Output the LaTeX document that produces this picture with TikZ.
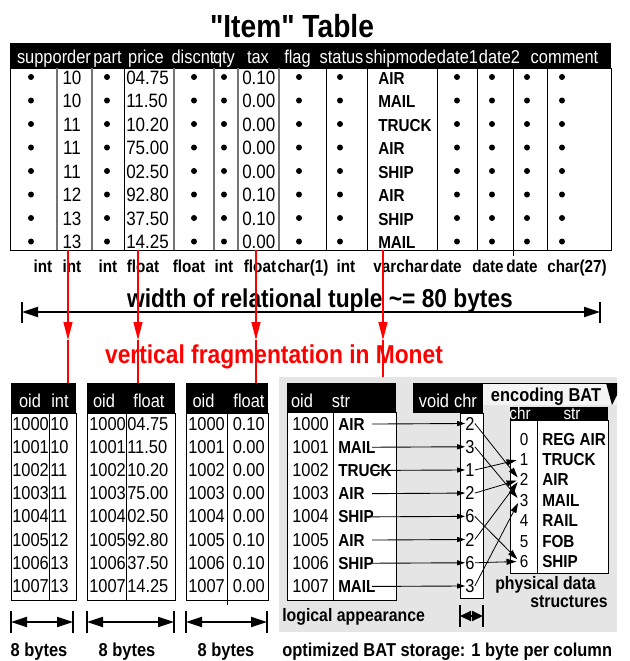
\documentclass[tikz,border=0pt]{standalone}
\usepackage{fontspec}
\setmainfont[FakeStretch=0.88]{Liberation Sans}
\newfontfamily\quotefont[FakeStretch=0.88]{Liberation Sans}
\usetikzlibrary{arrows.meta}

\newlength{\du}
\setlength{\du}{0.75pt}

\definecolor{storegray}{rgb}{0.898,0.898,0.898}
\definecolor{tabgray}{rgb}{0.955,0.955,0.955}

\tikzset{
  ttl/.style={inner sep=0pt, anchor=base, font=\quotefont\bfseries\fontsize{24}{28}\selectfont},
  big/.style={inner sep=0pt, anchor=base, font=\bfseries\fontsize{19.4}{23}\selectfont},
  hd/.style={inner sep=0pt, anchor=base, text=white, font=\fontsize{14}{17}\selectfont},
  val/.style={inner sep=0pt, anchor=base, font=\fontsize{14.5}{17}\selectfont},
  bval/.style={inner sep=0pt, anchor=base west, font=\bfseries\fontsize{13}{15}\selectfont},
  typ/.style={inner sep=0pt, anchor=base, font=\bfseries\fontsize{13}{15}\selectfont},
  bhd/.style={inner sep=0pt, anchor=base, text=white, font=\fontsize{14}{17}\selectfont},
  bv/.style={inner sep=0pt, anchor=base west, font=\fontsize{14}{17}\selectfont},
  lbl/.style={inner sep=0pt, anchor=base, font=\bfseries\fontsize{14}{17}\selectfont},
  sml/.style={inner sep=0pt, anchor=base, font=\bfseries\fontsize{13.5}{16}\selectfont},
  ehd/.style={inner sep=0pt, anchor=base, text=white, font=\fontsize{13}{15}\selectfont},
  ev/.style={inner sep=0pt, anchor=base, font=\fontsize{13}{15}\selectfont},
  tbl/.style={line width=1\du},
  tblg/.style={line width=1.4\du, draw=black!55},
  frag/.style={red, line width=1.3\du},
  fragtip/.style={frag, -{Triangle[length=13.5pt,width=6.75pt]}},
  span/.style={line width=1.8\du, {Triangle[length=12pt,width=7.5pt]}-{Triangle[length=12pt,width=7.5pt]}},
  bar/.style={line width=1.8\du},
  ptr/.style={line width=0.9\du, -{Triangle[length=6pt,width=3.75pt]}},
  enc/.style={line width=0.8\du, -{Triangle[length=7.5pt,width=4.5pt]}, shorten >=3\du},
}

\begin{document}
\begin{tikzpicture}
\pgftransformyscale{-1.000000}
\useasboundingbox (0\du,0\du) rectangle (630\du,661\du);

\node[ttl] (title) at (292\du,37\du) {"Item" Table};

% relational table
\fill[black] (10\du,43\du) rectangle (611\du,68\du);
\draw[tbl] (10\du,68\du) rectangle (611\du,250\du);
\draw[tblg] (57\du,68\du)--(57\du,250\du);
\draw[tblg] (92\du,68\du)--(92\du,250\du);
\draw[tbl] (124\du,68\du)--(124\du,250\du);
\draw[tblg] (174\du,68\du)--(174\du,250\du);
\draw[tblg] (214\du,68\du)--(214\du,250\du);
\draw[tblg] (238\du,68\du)--(238\du,250\du);
\draw[tblg] (279\du,68\du)--(279\du,250\du);
\draw[tbl] (326\du,68\du)--(326\du,250\du);
\draw[tbl] (367\du,68\du)--(367\du,250\du);
\draw[tbl] (437\du,68\du)--(437\du,250\du);
\draw[tbl] (477\du,68\du)--(477\du,250\du);
\draw[tbl] (513\du,68\du)--(513\du,256\du);
\draw[tbl] (547\du,68\du)--(547\du,250\du);

\node[hd] (hsupp) at (54\du,63\du) {supporder};
\node[hd] (hpart) at (107.5\du,63\du) {part};
\node[hd] (hprice) at (146\du,63\du) {price};
\node[hd] (hdisc) at (193\du,63\du) {discnt};
\node[hd] (hqty) at (224\du,63\du) {qty};
\node[hd] (htax) at (258\du,63\du) {tax};
\node[hd] (hflag) at (297.5\du,63\du) {flag};
\node[hd] (hstat) at (341.5\du,63\du) {status};
\node[hd] (hship) at (401\du,63\du) {shipmode};
\node[hd] (hdate1) at (457.5\du,63\du) {date1};
\node[hd] (hdate2) at (499.5\du,63\du) {date2};
\node[hd] (hcomm) at (564.5\du,63\du) {comment};

\foreach \x in {31,107,194,224,299,340,457,492,527,562}
  \foreach \y in {77,100.5,124,147.5,171,194.5,218,241.5}
    \fill (\x\du,\y\du) circle (3\du);

\node[val] (o1) at (72\du,84\du) {10};
\node[val,anchor=base west] (p1) at (126\du,84\du) {04.75};
\node[val,anchor=base west] (t1) at (242\du,84\du) {0.10};
\node[bval] (m1) at (378\du,84\du) {AIR};
\node[val] (o2) at (72\du,107.5\du) {10};
\node[val,anchor=base west] (p2) at (126\du,107.5\du) {11.50};
\node[val,anchor=base west] (t2) at (242\du,107.5\du) {0.00};
\node[bval] (m2) at (378\du,107.5\du) {MAIL};
\node[val] (o3) at (72\du,131\du) {11};
\node[val,anchor=base west] (p3) at (126\du,131\du) {10.20};
\node[val,anchor=base west] (t3) at (242\du,131\du) {0.00};
\node[bval] (m3) at (378\du,131\du) {TRUCK};
\node[val] (o4) at (72\du,154.5\du) {11};
\node[val,anchor=base west] (p4) at (126\du,154.5\du) {75.00};
\node[val,anchor=base west] (t4) at (242\du,154.5\du) {0.00};
\node[bval] (m4) at (378\du,154.5\du) {AIR};
\node[val] (o5) at (72\du,178\du) {11};
\node[val,anchor=base west] (p5) at (126\du,178\du) {02.50};
\node[val,anchor=base west] (t5) at (242\du,178\du) {0.00};
\node[bval] (m5) at (378\du,178\du) {SHIP};
\node[val] (o6) at (72\du,201.5\du) {12};
\node[val,anchor=base west] (p6) at (126\du,201.5\du) {92.80};
\node[val,anchor=base west] (t6) at (242\du,201.5\du) {0.10};
\node[bval] (m6) at (378\du,201.5\du) {AIR};
\node[val] (o7) at (72\du,225\du) {13};
\node[val,anchor=base west] (p7) at (126\du,225\du) {37.50};
\node[val,anchor=base west] (t7) at (242\du,225\du) {0.10};
\node[bval] (m7) at (378\du,225\du) {SHIP};
\node[val] (o8) at (72\du,248.5\du) {13};
\node[val,anchor=base west] (p8) at (126\du,248.5\du) {14.25};
\node[val,anchor=base west] (t8) at (242\du,248.5\du) {0.00};
\node[bval] (m8) at (378\du,248.5\du) {MAIL};

% column types
\node[typ] (ty1) at (43\du,272\du) {int};
\node[typ] (ty2) at (72\du,272\du) {int};
\node[typ] (ty3) at (108\du,272\du) {int};
\node[typ] (ty4) at (143\du,272\du) {float};
\node[typ] (ty5) at (189\du,272\du) {float};
\node[typ] (ty6) at (224\du,272\du) {int};
\node[typ] (ty7) at (260\du,272\du) {float};
\node[typ] (ty8) at (303\du,272\du) {char(1)};
\node[typ] (ty9) at (346\du,272\du) {int};
\node[typ] (ty10) at (401\du,272\du) {varchar};
\node[typ] (ty11) at (446\du,272\du) {date};
\node[typ] (ty12) at (488\du,272\du) {date};
\node[typ] (ty13) at (522\du,272\du) {date};
\node[typ] (ty14) at (577\du,272\du) {char(27)};

% tuple width
\node[big] (wtxt) at (320\du,307\du) {width of relational tuple \textasciitilde= 80 bytes};
\coordinate (wl) at (22\du,312\du);
\coordinate (wr) at (600\du,312\du);
\draw[span] (wl) -- (wr);
\draw[bar] (22\du,302\du) -- (22\du,323\du);
\draw[bar] (600\du,302\du) -- (600\du,323\du);

% fragmentation
\node[big,text=red] (frtxt) at (274\du,363\du) {vertical fragmentation in Monet};
\coordinate (r1a) at (68\du,250\du);
\coordinate (r1b) at (68\du,340\du);
\coordinate (r1c) at (68\du,383\du);
\coordinate (r2a) at (138\du,250\du);
\coordinate (r2b) at (138\du,340\du);
\coordinate (r2c) at (138\du,383\du);
\coordinate (r3a) at (256\du,250\du);
\coordinate (r3b) at (256\du,340\du);
\coordinate (r3c) at (256\du,383\du);
\coordinate (r4a) at (383\du,250\du);
\coordinate (r4b) at (383\du,340\du);
\coordinate (r4c) at (383\du,383\du);
\draw[fragtip] (r1a) -- (r1b);
\draw[frag] (r1b) -- (r1c);
\draw[fragtip] (r2a) -- (r2b);
\draw[frag] (r2b) -- (r2c);
\draw[fragtip] (r3a) -- (r3b);
\draw[frag] (r3b) -- (r3c);
\draw[fragtip] (r4a) -- (r4b);
\draw[frag] (r4b) -- (r4c);

% BAT oid/int
\fill[black] (11\du,383\du) rectangle (76\du,413\du);
\draw[tbl] (11\du,413\du) rectangle (76\du,600\du);
\draw[tbl] (49\du,413\du) -- (49\du,600\du);
\node[bhd] (a0) at (30\du,407\du) {oid};
\node[bhd] (a1) at (60\du,407\du) {int};
\node[bv] (ao1) at (12\du,430\du) {1000};
\node[bv] (ao2) at (12\du,453.2\du) {1001};
\node[bv] (ao3) at (12\du,476.4\du) {1002};
\node[bv] (ao4) at (12\du,499.6\du) {1003};
\node[bv] (ao5) at (12\du,522.8\du) {1004};
\node[bv] (ao6) at (12\du,546\du) {1005};
\node[bv] (ao7) at (12\du,569.2\du) {1006};
\node[bv] (ao8) at (12\du,592.4\du) {1007};
\node[bv] (av1) at (50\du,430\du) {10};
\node[bv] (av2) at (50\du,453.2\du) {10};
\node[bv] (av3) at (50\du,476.4\du) {11};
\node[bv] (av4) at (50\du,499.6\du) {11};
\node[bv] (av5) at (50\du,522.8\du) {11};
\node[bv] (av6) at (50\du,546\du) {12};
\node[bv] (av7) at (50\du,569.2\du) {13};
\node[bv] (av8) at (50\du,592.4\du) {13};

% BAT oid/float (price)
\fill[black] (87\du,383\du) rectangle (175\du,413\du);
\draw[tbl] (87\du,413\du) rectangle (175\du,600\du);
\draw[tbl] (126\du,413\du) -- (126\du,600\du);
\node[bhd] (b0) at (104\du,407\du) {oid};
\node[bhd] (b1) at (149\du,407\du) {float};
\node[bv] (bo1) at (89\du,430\du) {1000};
\node[bv] (bo2) at (89\du,453.2\du) {1001};
\node[bv] (bo3) at (89\du,476.4\du) {1002};
\node[bv] (bo4) at (89\du,499.6\du) {1003};
\node[bv] (bo5) at (89\du,522.8\du) {1004};
\node[bv] (bo6) at (89\du,546\du) {1005};
\node[bv] (bo7) at (89\du,569.2\du) {1006};
\node[bv] (bo8) at (89\du,592.4\du) {1007};
\node[bv] (bv1) at (127\du,430\du) {04.75};
\node[bv] (bv2) at (127\du,453.2\du) {11.50};
\node[bv] (bv3) at (127\du,476.4\du) {10.20};
\node[bv] (bv4) at (127\du,499.6\du) {75.00};
\node[bv] (bv5) at (127\du,522.8\du) {02.50};
\node[bv] (bv6) at (127\du,546\du) {92.80};
\node[bv] (bv7) at (127\du,569.2\du) {37.50};
\node[bv] (bv8) at (127\du,592.4\du) {14.25};

% BAT oid/float (tax)
\fill[black] (186\du,383\du) rectangle (268\du,413\du);
\draw[tbl] (186\du,413\du) rectangle (268\du,600\du);
\draw[tbl] (227\du,413\du) -- (227\du,605\du);
\node[bhd] (c0) at (203.5\du,407\du) {oid};
\node[bhd] (cf) at (249\du,407\du) {float};
\node[bv] (co1) at (188\du,430\du) {1000};
\node[bv] (co2) at (188\du,453.2\du) {1001};
\node[bv] (co3) at (188\du,476.4\du) {1002};
\node[bv] (co4) at (188\du,499.6\du) {1003};
\node[bv] (co5) at (188\du,522.8\du) {1004};
\node[bv] (co6) at (188\du,546\du) {1005};
\node[bv] (co7) at (188\du,569.2\du) {1006};
\node[bv] (co8) at (188\du,592.4\du) {1007};
\node[bv,anchor=base east] (cv1) at (265\du,430\du) {0.10};
\node[bv,anchor=base east] (cv2) at (265\du,453.2\du) {0.00};
\node[bv,anchor=base east] (cv3) at (265\du,476.4\du) {0.00};
\node[bv,anchor=base east] (cv4) at (265\du,499.6\du) {0.00};
\node[bv,anchor=base east] (cv5) at (265\du,522.8\du) {0.00};
\node[bv,anchor=base east] (cv6) at (265\du,546\du) {0.10};
\node[bv,anchor=base east] (cv7) at (265\du,569.2\du) {0.10};
\node[bv,anchor=base east] (cv8) at (265\du,592.4\du) {0.00};

% byte widths
\coordinate (w1l) at (11\du,622\du);
\coordinate (w1r) at (73\du,622\du);
\coordinate (w2l) at (87\du,622\du);
\coordinate (w2r) at (174\du,622\du);
\coordinate (w3l) at (186\du,622\du);
\coordinate (w3r) at (267\du,622\du);
\draw[span] (w1l) -- (w1r);
\draw[span] (w2l) -- (w2r);
\draw[span] (w3l) -- (w3r);
\draw[bar] (11\du,611\du) -- (11\du,633\du);
\draw[bar] (73\du,611\du) -- (73\du,633\du);
\draw[bar] (87\du,611\du) -- (87\du,633\du);
\draw[bar] (174\du,611\du) -- (174\du,633\du);
\draw[bar] (186\du,611\du) -- (186\du,633\du);
\draw[bar] (267\du,611\du) -- (267\du,633\du);
\node[lbl] (by1) at (39\du,656\du) {8 bytes};
\node[lbl] (by2) at (127\du,656\du) {8 bytes};
\node[lbl] (by3) at (226\du,656\du) {8 bytes};

% optimized storage
\fill[storegray] (279\du,377\du) rectangle (617\du,632\du);

\fill[black] (287\du,383\du) rectangle (396\du,412\du);
\fill[white] (287\du,412\du) rectangle (396\du,600\du);
\draw[tbl] (287\du,412\du) rectangle (396\du,600\du);
\draw[tbl] (333\du,412\du) -- (333\du,600\du);
\node[bhd] (d0) at (302\du,407\du) {oid};
\node[bhd] (d1) at (341\du,407\du) {str};
\node[bv] (do1) at (292\du,430\du) {1000};
\node[bv] (do2) at (292\du,453.2\du) {1001};
\node[bv] (do3) at (292\du,476.4\du) {1002};
\node[bv] (do4) at (292\du,499.6\du) {1003};
\node[bv] (do5) at (292\du,522.8\du) {1004};
\node[bv] (do6) at (292\du,546\du) {1005};
\node[bv] (do7) at (292\du,569.2\du) {1006};
\node[bv] (do8) at (292\du,592.4\du) {1007};
\node[bval] (s1) at (338\du,430\du) {AIR};
\node[bval] (s2) at (338\du,453.2\du) {MAIL};
\node[bval] (s3) at (338\du,476.4\du) {TRUCK};
\node[bval] (s4) at (338\du,499.6\du) {AIR};
\node[bval] (s5) at (338\du,522.8\du) {SHIP};
\node[bval] (s6) at (338\du,546\du) {AIR};
\node[bval] (s7) at (338\du,569.2\du) {SHIP};
\node[bval] (s8) at (338\du,592.4\du) {MAIL};

% void/chr column
\fill[black] (413\du,383\du) rectangle (483\du,413\du);
\fill[white] (460\du,413\du) rectangle (483\du,598\du);
\draw[tbl] (460\du,413\du) rectangle (483\du,598\du);
\node[bhd] (vvoid) at (434\du,407\du) {void};
\node[bhd] (vchr) at (465.5\du,407\du) {chr};
\node[bv,anchor=base] (k1) at (470\du,430\du) {2};
\node[bv,anchor=base] (k2) at (470\du,453.2\du) {3};
\node[bv,anchor=base] (k3) at (470\du,476.4\du) {1};
\node[bv,anchor=base] (k4) at (470\du,499.6\du) {2};
\node[bv,anchor=base] (k5) at (470\du,522.8\du) {6};
\node[bv,anchor=base] (k6) at (470\du,546\du) {2};
\node[bv,anchor=base] (k7) at (470\du,569.2\du) {6};
\node[bv,anchor=base] (k8) at (470\du,592.4\du) {3};

\draw[ptr] ([xshift=34\du]s1.west) -- (k1.west);
\draw[ptr] ([xshift=34\du]s2.west) -- (k2.west);
\draw[ptr] ([xshift=34\du]s3.west) -- (k3.west);
\draw[ptr] ([xshift=34\du]s4.west) -- (k4.west);
\draw[ptr] ([xshift=34\du]s5.west) -- (k5.west);
\draw[ptr] ([xshift=34\du]s6.west) -- (k6.west);
\draw[ptr] ([xshift=34\du]s7.west) -- (k7.west);
\draw[ptr] ([xshift=34\du]s8.west) -- (k8.west);

\coordinate (kw) at (471.5\du,616\du);
\coordinate (kwl) at (460\du,616\du);
\coordinate (kwr) at (483\du,616\du);
\draw[line width=1.8\du, -{Triangle[length=8.25pt,width=7.5pt]}] (kw) -- (kwl);
\draw[line width=1.8\du, -{Triangle[length=8.25pt,width=7.5pt]}] (kw) -- (kwr);
\draw[bar] (460\du,605\du) -- (460\du,627\du);
\draw[bar] (483\du,605\du) -- (483\du,627\du);

% encoding BAT
\fill[tabgray] (483\du,383\du) rectangle (617\du,405\du);
\draw[tbl] (483\du,383\du) -- (617\du,383\du);
\fill[black] (606\du,383\du) -- (617\du,383\du) -- (617\du,395\du) -- (612\du,405\du) -- cycle;
\node[lbl] (encl) at (546\du,401\du) {encoding BAT};
\fill[black] (510\du,407\du) rectangle (608\du,420\du);
\fill[white] (510\du,420\du) rectangle (608\du,573\du);
\draw[tbl] (510\du,420\du) rectangle (608\du,573\du);
\draw[tbl] (537\du,420\du) -- (537\du,573\du);
\node[ehd] (ec) at (520\du,419\du) {chr};
\node[ehd] (es) at (572\du,419\du) {str};
\node[ev] (e0) at (524\du,445\du) {0};
\node[ev] (e1) at (524\du,465.4\du) {1};
\node[ev] (e2) at (524\du,485.8\du) {2};
\node[ev] (e3) at (524\du,506.2\du) {3};
\node[ev] (e4) at (524\du,526.6\du) {4};
\node[ev] (e5) at (524\du,547\du) {5};
\node[ev] (e6) at (524\du,567.4\du) {6};
\node[bval] (n0) at (542\du,445\du) {REG AIR};
\node[bval] (n1) at (542\du,465.4\du) {TRUCK};
\node[bval] (n2) at (542\du,485.8\du) {AIR};
\node[bval] (n3) at (542\du,506.2\du) {MAIL};
\node[bval] (n4) at (542\du,526.6\du) {RAIL};
\node[bval] (n5) at (542\du,547\du) {FOB};
\node[bval] (n6) at (542\du,567.4\du) {SHIP};

\draw[enc] (k1.east) -- (e2.west);
\draw[enc] (k2.east) -- (e3.west);
\draw[enc] (k3.east) -- (e1.west);
\draw[enc] (k4.east) -- (e2.west);
\draw[enc] (k5.east) -- (e6.west);
\draw[enc] (k6.east) -- (e2.west);
\draw[enc] (k7.east) -- (e6.west);
\draw[enc] (k8.east) -- (e3.west);

\node[sml,anchor=base west] (phys1) at (495\du,589\du) {physical data};
\node[sml,anchor=base east] (phys2) at (608\du,607\du) {structures};
\node[sml,anchor=base west] (logic) at (282\du,621\du) {logical appearance};
\node[lbl,anchor=base west] (optim) at (282\du,656\du) {optimized BAT storage: 1 byte per column};
\end{tikzpicture}
\end{document}
